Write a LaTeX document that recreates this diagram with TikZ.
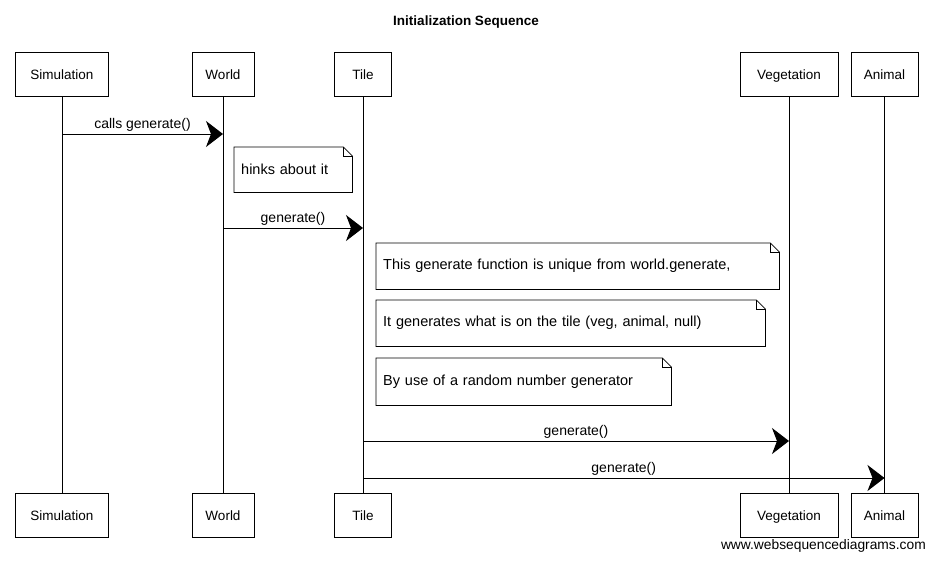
\documentclass[tikz,border=0pt]{standalone}
\usepackage{fontspec}
\setmainfont{Liberation Sans}
\usetikzlibrary{arrows.meta}
\newcommand\drawnotebox[1]{%
  \draw[noteline] (#1.north west) -- ([xshift=-9pt]#1.north east) -- ([yshift=-9pt]#1.north east) -- (#1.south east) -- (#1.south west) -- cycle;
  \draw[noteline] ([xshift=-9pt]#1.north east) |- ([yshift=-9pt]#1.north east);}
\begin{document}
\begin{tikzpicture}[x=1pt,y=-1pt,
  actor/.style={draw, line width=0.8pt, minimum height=44pt, inner sep=0pt, text height=12pt, text depth=2pt, font=\fontsize{13.5}{16}\selectfont},
  life/.style={line width=0.6pt},
  msg/.style={line width=1pt, -{Stealth[length=17pt, width=26pt, inset=5pt]}},
  lbl/.style={font=\fontsize{14}{16}\selectfont, above=1pt, inner sep=1pt},
  note/.style={anchor=north west, inner xsep=7pt, inner ysep=0pt, align=left, font=\fontsize{14.5}{17}\selectfont},
  noteline/.style={line width=0.8pt}]
\useasboundingbox (0,0) rectangle (934,560);
\node[font=\bfseries\fontsize{13.5}{16}\selectfont] (title) at (466,22) {Initialization Sequence};
% participants top
\node[actor, minimum width=93pt] (sim) at (62,74.5) {Simulation};
\node[actor, minimum width=62pt] (wor) at (223,74.5) {World};
\node[actor, minimum width=57pt] (til) at (363,74.5) {Tile};
\node[actor, minimum width=98pt] (veg) at (789,74.5) {Vegetation};
\node[actor, minimum width=67pt] (ani) at (884.5,74.5) {Animal};
% participants bottom
\node[actor, minimum width=93pt] (simb) at (62,515.5) {Simulation};
\node[actor, minimum width=62pt] (worb) at (223,515.5) {World};
\node[actor, minimum width=57pt] (tilb) at (363,515.5) {Tile};
\node[actor, minimum width=98pt] (vegb) at (789,515.5) {Vegetation};
\node[actor, minimum width=67pt] (anib) at (884.5,515.5) {Animal};
% lifelines
\draw[life] (sim.south) -- (simb.north);
\draw[life] (wor.south) -- (worb.north);
\draw[life] (til.south) -- (tilb.north);
\draw[life] (veg.south) -- (vegb.north);
\draw[life] (ani.south) -- (anib.north);
% messages
\coordinate (m1a) at (sim |- 0,134); \coordinate (m1b) at (wor |- 0,134);
\draw[msg] (m1a) -- node[lbl] {calls generate()} (m1b);
\node[note, minimum width=118pt, minimum height=45pt, text width=104pt] (n1) at (234,147) {hinks about it};
\drawnotebox{n1}
\coordinate (m2a) at (wor |- 0,228); \coordinate (m2b) at (til |- 0,228);
\draw[msg] (m2a) -- node[lbl] {generate()} (m2b);
\node[note, minimum width=403pt, minimum height=46pt, text width=389pt] (n2) at (376,243) {This generate function is unique from world.generate,};
\drawnotebox{n2}
\node[note, minimum width=389pt, minimum height=46pt, text width=375pt] (n3) at (376,300) {It generates what is on the tile (veg, animal, null)};
\drawnotebox{n3}
\node[note, minimum width=295pt, minimum height=47pt, text width=281pt] (n4) at (376,358) {By use of a random number generator};
\drawnotebox{n4}
\coordinate (m3a) at (til |- 0,441); \coordinate (m3b) at (veg |- 0,441);
\draw[msg] (m3a) -- node[lbl] {generate()} (m3b);
\coordinate (m4a) at (til |- 0,478); \coordinate (m4b) at (ani |- 0,478);
\draw[msg] (m4a) -- node[lbl] {generate()} (m4b);
\node[font=\fontsize{13.8}{16}\selectfont, anchor=east, inner sep=0pt] (footer) at (926,546) {www.websequencediagrams.com};
\end{tikzpicture}
\end{document}
